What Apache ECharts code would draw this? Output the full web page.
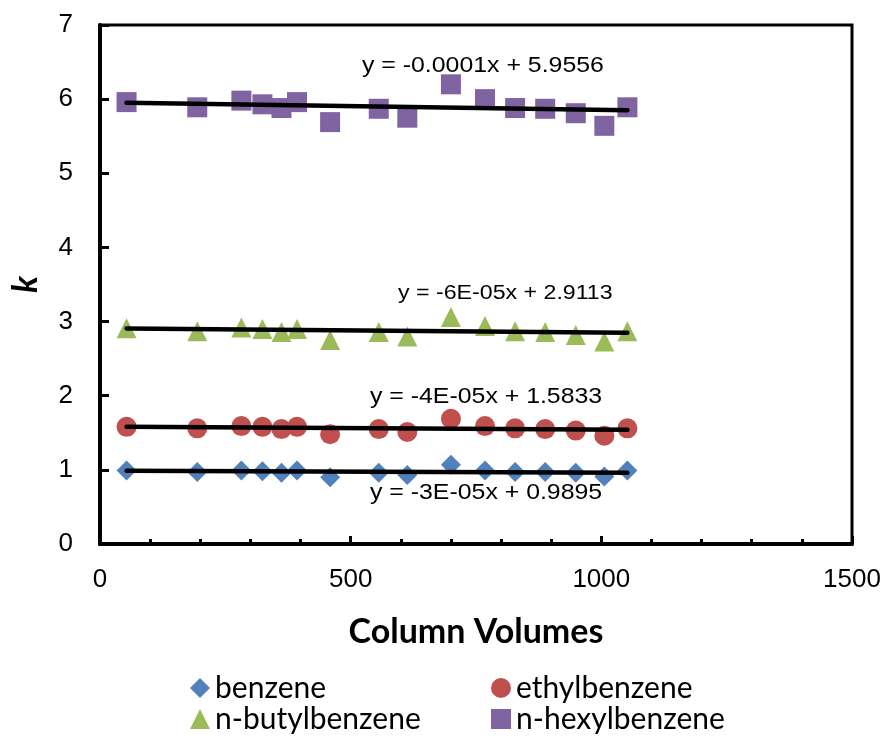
<!DOCTYPE html>
<html>
<head>
<meta charset="utf-8">
<title>k vs Column Volumes</title>
<script src="https://cdn.jsdelivr.net/npm/echarts@6/dist/echarts.min.js"></script>
<style>
  html, body { margin: 0; padding: 0; background: #fff; }
  #chart { width: 890px; height: 738px; }
</style>
</head>
<body>
<div id="chart"></div>
<script>
// column volumes (same for every solute)
const columnVolumes = [53, 194, 282, 324, 362, 393, 459, 556, 613, 700, 768, 828, 888, 949, 1006, 1052];

// retention factor k
const benzene = [0.99, 0.97, 0.99, 0.98, 0.96, 0.99, 0.90, 0.96, 0.93, 1.07, 0.99, 0.97, 0.97, 0.96, 0.91, 0.99];
const ethylbenzene = [1.58, 1.56, 1.59, 1.58, 1.55, 1.58, 1.48, 1.55, 1.51, 1.69, 1.59, 1.56, 1.55, 1.53, 1.46, 1.56];
const butylbenzene = [2.91, 2.87, 2.92, 2.90, 2.86, 2.90, 2.75, 2.86, 2.80, 3.06, 2.94, 2.87, 2.86, 2.82, 2.73, 2.87];
const hexylbenzene = [5.96, 5.89, 5.98, 5.93, 5.88, 5.96, 5.69, 5.87, 5.75, 6.20, 6.00, 5.88, 5.87, 5.81, 5.64, 5.89];

// linear trendlines, values at first and last column volume
const trendX = [53, 1052];
const benzeneTrend = [0.988, 0.960];
const ethylTrend = [1.581, 1.541];
const butylTrend = [2.908, 2.848];
const hexylTrend = [5.950, 5.850];

const equations = [
  { text: 'y = -0.0001x + 5.9556', x: 362, y: 66, size: 22 },
  { text: 'y = -6E-05x + 2.9113', x: 398, y: 293, size: 20.5 },
  { text: 'y = -4E-05x + 1.5833', x: 370, y: 397, size: 22 },
  { text: 'y = -3E-05x + 0.9895', x: 370, y: 493, size: 22 }
];

const colors = {
  benzene: '#4F81BD',
  ethylbenzene: '#C0504D',
  butyl: '#9BBB59',
  hexyl: '#8064A2'
};

const pairs = (xs, ys) => xs.map((x, i) => [x, ys[i]]);

const scatter = (name, ys, symbol, color) => ({
  name,
  type: 'scatter',
  symbol,
  symbolSize: 20,
  itemStyle: { color, opacity: 1 },
  data: pairs(columnVolumes, ys)
});

const trend = (name, ys) => ({
  name,
  type: 'line',
  showSymbol: false,
  silent: true,
  z: 5,
  lineStyle: { color: '#000', width: 4.5, cap: 'round' },
  data: pairs(trendX, ys)
});

const legendAt = (name, left, top) => ({
  data: [name],
  left,
  top,
  padding: 0,
  itemWidth: 20,
  itemHeight: 20,
  itemGap: 0,
  textStyle: { fontFamily: 'Lato', fontSize: 30, color: '#000' }
});

const chart = echarts.init(document.getElementById('chart'));

const option = {
  animation: false,
  grid: {
    left: 100,
    right: 38,
    top: 25,
    bottom: 194,
    show: true,
    borderColor: '#000',
    borderWidth: 3
  },
  xAxis: {
    type: 'value',
    min: 0,
    max: 1500,
    interval: 500,
    name: 'Column Volumes',
    nameLocation: 'middle',
    nameGap: 71,
    nameTextStyle: { fontFamily: 'Lato', fontWeight: 'bold', fontSize: 34, color: '#000' },
    axisLine: { show: true, lineStyle: { color: '#000', width: 4 } },
    axisTick: { show: true, inside: true, length: 8, lineStyle: { color: '#000', width: 3 } },
    minorTick: { show: true, splitNumber: 5, length: 5, lineStyle: { color: '#000', width: 3 } },
    axisLabel: {
      margin: 23,
      fontFamily: 'Liberation Sans',
      fontSize: 26,
      color: '#000',
      formatter: v => String(v)
    },
    splitLine: { show: false }
  },
  yAxis: {
    type: 'value',
    min: 0,
    max: 7,
    interval: 1,
    name: 'k',
    nameLocation: 'middle',
    nameGap: 57,
    nameTextStyle: { fontFamily: 'Lato', fontWeight: 'bold', fontStyle: 'italic', fontSize: 34, color: '#000' },
    axisLine: { show: true, lineStyle: { color: '#000', width: 4 } },
    axisTick: { show: true, inside: true, length: 9, lineStyle: { color: '#000', width: 3 } },
    axisLabel: { margin: 27, fontFamily: 'Liberation Sans', fontSize: 26, color: '#000' },
    splitLine: { show: false }
  },
  legend: [
    legendAt('benzene', 190, 673),
    legendAt('ethylbenzene', 491, 673),
    legendAt('n-butylbenzene', 190, 704),
    legendAt('n-hexylbenzene', 491, 704)
  ],
  graphic: equations.map(e => ({
    type: 'text',
    x: e.x,
    y: e.y,
    scaleX: 1.13,
    z: 10,
    style: {
      text: e.text,
      fontFamily: 'Liberation Sans',
      fontSize: e.size,
      fill: '#000',
      verticalAlign: 'middle'
    }
  })),
  series: [
    scatter('benzene', benzene, 'diamond', colors.benzene),
    scatter('ethylbenzene', ethylbenzene, 'circle', colors.ethylbenzene),
    scatter('n-butylbenzene', butylbenzene, 'triangle', colors.butyl),
    scatter('n-hexylbenzene', hexylbenzene, 'rect', colors.hexyl),
    trend('benzene trend', benzeneTrend),
    trend('ethylbenzene trend', ethylTrend),
    trend('n-butylbenzene trend', butylTrend),
    trend('n-hexylbenzene trend', hexylTrend)
  ]
};

chart.setOption(option);
</script>
</body>
</html>
